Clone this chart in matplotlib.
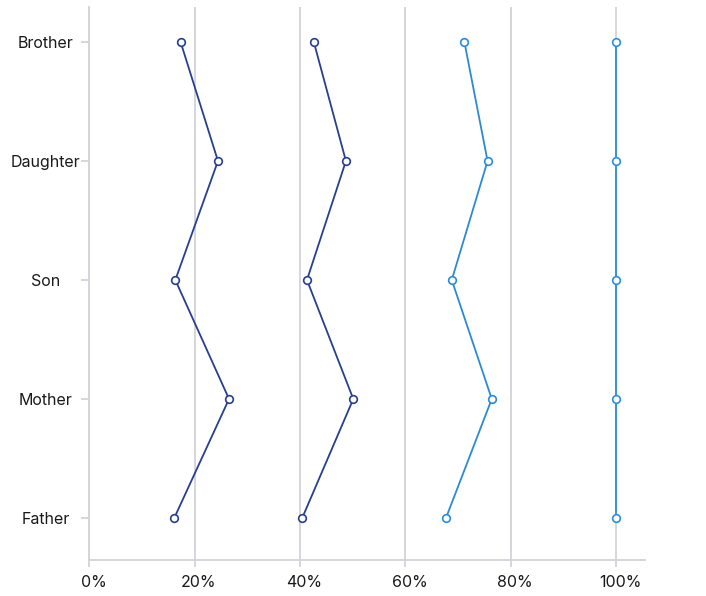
import matplotlib.pyplot as plt
import matplotlib.transforms as mtransforms
from matplotlib.ticker import FuncFormatter

plt.rcParams['font.family'] = ['Inter', 'DejaVu Sans']

# Categories, bottom to top
members = ['Father', 'Mother', 'Son', 'Daughter', 'Brother']

# Cumulative share (%) for each stacked series
series_1 = [16.1, 26.5, 16.3, 24.4, 17.3]
series_2 = [40.4, 50.1, 41.3, 48.7, 42.6]
series_3 = [67.7, 76.4, 68.8, 75.6, 71.2]
series_4 = [100, 100, 100, 100, 100]

colors = ['#263f91', '#263f91', '#2b8ad6', '#2b8fdc']

fig = plt.figure(figsize=(7.06, 5.96), dpi=100)
ax = fig.add_axes([89.5 / 706, 36 / 596, (645 - 89.5) / 706, (560 - 7) / 596])

ypos = list(range(len(members)))
for vals, c in zip([series_1, series_2, series_3, series_4], colors):
    ax.plot(vals, ypos, color=c, lw=1.3, marker='o', ms=5.5,
            mfc='white', mec=c, mew=1.2, zorder=3)

ax.set_xlim(0, 105.5)
ax.set_ylim(-0.353, 4.294)
ax.set_xticks([0, 20, 40, 60, 80, 100])
ax.xaxis.set_major_formatter(FuncFormatter(lambda v, p: f'{int(v)}%'))
ax.set_yticks(ypos)
ax.set_yticklabels(members)

ax.grid(axis='x', color='#d2d2da', lw=1.3)
ax.set_axisbelow(True)
for s in ['top', 'right']:
    ax.spines[s].set_visible(False)
for s in ['left', 'bottom']:
    ax.spines[s].set_color('#d2d2da')
    ax.spines[s].set_linewidth(1.3)

ax.tick_params(axis='x', length=5, color='#d2d2da', width=1.3,
               labelsize=11.5, labelcolor='#1a1a1a', pad=6)
ax.tick_params(axis='y', length=6, color='#d2d2da', width=1.3,
               labelsize=11.5, labelcolor='#1a1a1a', pad=6)

# y labels centered in the left margin
for lbl in ax.get_yticklabels():
    lbl.set_horizontalalignment('center')
    lbl.set_transform(lbl.get_transform() +
                      mtransforms.ScaledTranslation(-0.27, 0, fig.dpi_scale_trans))
for lbl in ax.get_xticklabels():
    lbl.set_transform(lbl.get_transform() +
                      mtransforms.ScaledTranslation(0.04, 0, fig.dpi_scale_trans))

fig.savefig('out.png', dpi=100)
